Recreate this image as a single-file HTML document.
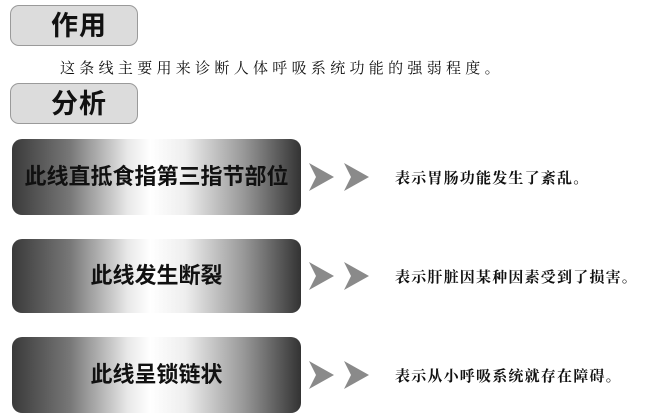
<!DOCTYPE html>
<html><head><meta charset="utf-8"><style>
body{margin:0;width:660px;height:420px;background:#fff;position:relative;overflow:hidden;font-family:"Liberation Sans","Noto Sans CJK SC",sans-serif}
.tag{position:absolute;left:10px;width:128px;height:41px;border:1px solid #9a9a9a;border-radius:9px;background:#dcdcdc;font-size:27px;font-weight:bold;color:#111;line-height:41px;padding-left:40px;box-sizing:border-box;letter-spacing:1px}
.line{position:absolute;left:60px;top:57px;font-family:"Noto Serif CJK SC",serif;font-size:15px;letter-spacing:4.3px;color:#111}
.box{position:absolute;left:12px;width:289px;border-radius:10px;background:linear-gradient(90deg,#3a3a3a 0%,#777 20%,#e8e8e8 40%,#fff 48%,#eee 60%,#999 80%,#333 100%);font-weight:bold;color:#111;text-align:center;font-size:22px}
.arr{position:absolute;left:308px}
.txt{position:absolute;left:395px;font-family:"Noto Serif CJK SC",serif;font-weight:bold;font-size:15px;letter-spacing:1.2px;color:#111}
</style></head><body>
<div class="tag" style="top:5px">作用</div>
<div class="line">这条线主要用来诊断人体呼吸系统功能的强弱程度。</div>
<div class="tag" style="top:83px">分析</div>

<div class="box" style="top:139px;height:76px;line-height:76px">此线直抵食指第三指节部位</div>
<div class="box" style="top:239px;height:74px;line-height:74px">此线发生断裂</div>
<div class="box" style="top:337px;height:76px;line-height:76px">此线呈锁链状</div>

<svg class="arr" style="top:163px" width="64" height="30"><polygon points="1,0 26,14 1,28 8,14" fill="#8a8a8a"/><polygon points="36,0 61,14 36,28 43,14" fill="#8a8a8a"/></svg>
<svg class="arr" style="top:262px" width="64" height="30"><polygon points="1,0 26,14 1,28 8,14" fill="#8a8a8a"/><polygon points="36,0 61,14 36,28 43,14" fill="#8a8a8a"/></svg>
<svg class="arr" style="top:361px" width="64" height="30"><polygon points="1,0 26,14 1,28 8,14" fill="#8a8a8a"/><polygon points="36,0 61,14 36,28 43,14" fill="#8a8a8a"/></svg>

<div class="txt" style="top:167px">表示胃肠功能发生了紊乱。</div>
<div class="txt" style="top:266px">表示肝脏因某种因素受到了损害。</div>
<div class="txt" style="top:365px">表示从小呼吸系统就存在障碍。</div>
</body></html>
